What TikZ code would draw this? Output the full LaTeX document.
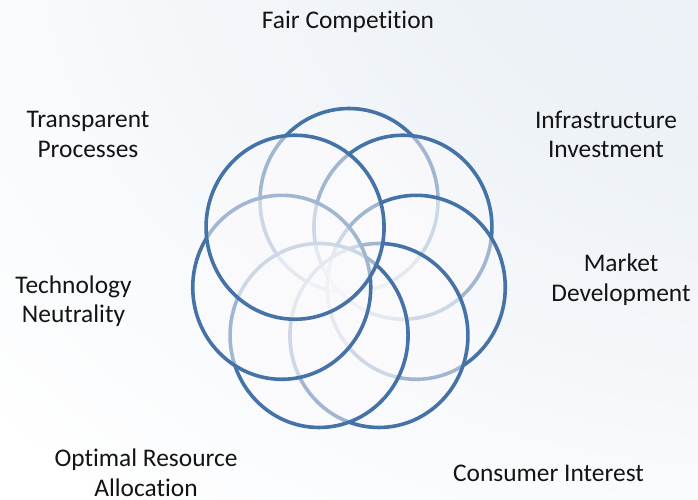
\documentclass[tikz,border=0pt]{standalone}
\usepackage{fontspec}
\setmainfont{Carlito}[Ligatures=NoCommon]

\definecolor{ringblue}{RGB}{69,114,167}
\definecolor{ringfill}{RGB}{251,250,252}
\definecolor{haze}{RGB}{229,237,244}
\definecolor{hazemid}{RGB}{237,242,247}
\definecolor{labeltext}{RGB}{20,20,20}

% soft blue glow spreading from the upper right corner
\pgfdeclareradialshading{cornerhaze}{\pgfpoint{50bp}{50bp}}{%
  color(0bp)=(haze); color(32bp)=(hazemid); color(68bp)=(white); color(140bp)=(white)}

\tikzset{
  ring/.style={fill=ringfill, fill opacity=0.5, draw=ringblue, draw opacity=1, line width=3.6pt},
  % base anchor of a two-line label sits on the baseline of its last line
  lbl/.style={font=\fontsize{25.4}{29.5}\selectfont, text=labeltext, align=center,
              anchor=base, inner sep=0pt}
}

\begin{document}
\begin{tikzpicture}[x=1pt,y=-1pt]
  \useasboundingbox (0,0) rectangle (698,499);
  \shade[shading=cornerhaze] (0,0) rectangle (698,499);

  % seven interlocking rings, drawn clockwise from the top so each one
  % veils the rings painted before it
  \foreach \k/\nm in {0/fair,1/infra,2/market,3/consumer,4/optimal,5/technology,6/transparent}{
    \pgfmathsetmacro\ang{90-\k*360/7}
    \coordinate (c-\nm) at ({349+69*cos(\ang)},{271.5-71*sin(\ang)});
    \path[ring] (c-\nm) ellipse [x radius=89, y radius=92];
  }

  \node[lbl] (fair)        at (348,28.3)    {Fair Competition};
  \node[lbl] (infra)       at (606,157.5)   {Infrastructure\\Investment};
  \node[lbl] (market)      at (621,301)     {Market\\Development};
  \node[lbl] (consumer)    at (548.5,481.7) {Consumer Interest};
  \node[lbl] (optimal)     at (146,496)     {Optimal Resource\\Allocation};
  \node[lbl] (technology)  at (73.5,322.5)  {Technology\\Neutrality};
  \node[lbl] (transparent) at (88,157)      {Transparent\\Processes};
\end{tikzpicture}
\end{document}
